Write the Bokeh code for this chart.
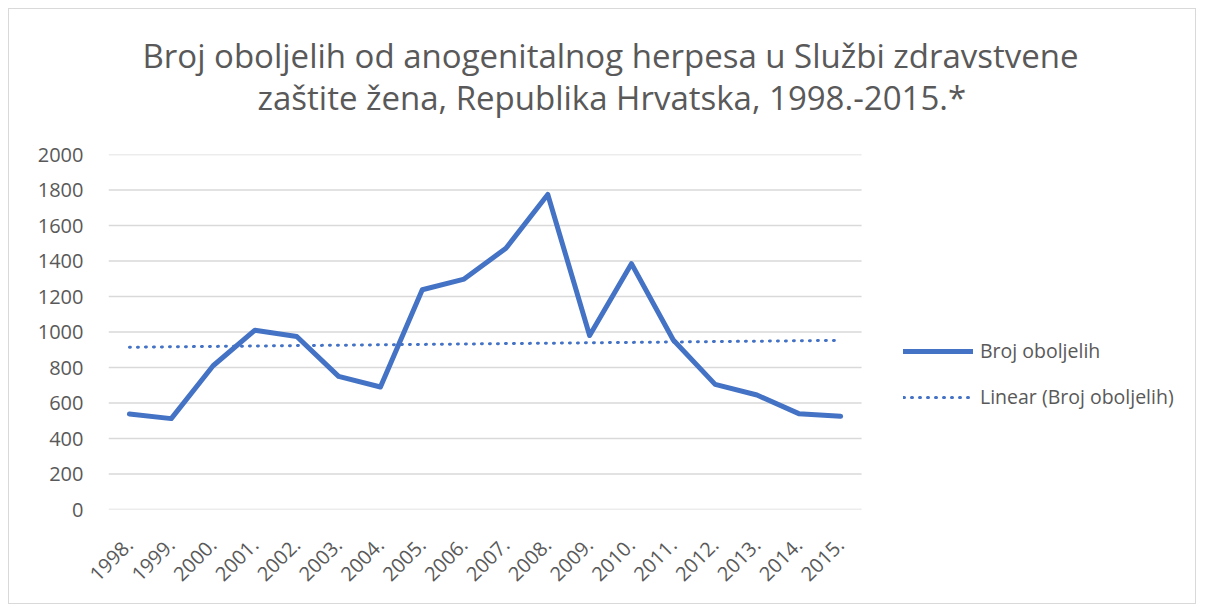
import numpy as np
from bokeh.plotting import figure
from bokeh.models import Range1d, Legend, LegendItem, Title, ColumnDataSource, FixedTicker
from bokeh.embed import file_html
from bokeh.resources import INLINE
from math import pi

years = ["1998.", "1999.", "2000.", "2001.", "2002.", "2003.", "2004.", "2005.", "2006.",
         "2007.", "2008.", "2009.", "2010.", "2011.", "2012.", "2013.", "2014.", "2015."]
cases = [538, 512, 810, 1010, 975, 750, 690, 1238, 1298, 1472, 1775, 980, 1385, 955, 705, 645, 540, 525]
title_lines = ["Broj oboljelih od anogenitalnog herpesa u Službi zdravstvene",
               "zaštite žena, Republika Hrvatska, 1998.-2015.*"]
series_name = "Broj oboljelih"
trend_name = "Linear (Broj oboljelih)"
y_ticks = list(range(0, 2001, 200))

idx = list(range(len(years)))
coef = np.polyfit(idx, cases, 1)
trend = list(np.polyval(coef, idx))

FONT = "Open Sans"
GREY = "#595959"
BLUE = "#4472c4"

n = len(years)
# plot area reaches to the right edge so the legend can sit beside the data
p = figure(width=1188, height=596, x_range=Range1d(-0.5, 25.53), y_range=Range1d(0, 2000),
           output_backend="svg", toolbar_location=None,
           min_border_left=99, min_border_right=0, min_border_top=145, min_border_bottom=96)
p.styles = {"border": "1px solid #d9d9d9", "margin-left": "8px", "margin-top": "8px"}
p.outline_line_color = None
p.background_fill_color = "white"
p.border_fill_color = "white"
p.xgrid.grid_line_color = None
p.ygrid.grid_line_color = None

# horizontal gridlines over the category area only
p.segment(x0=[-0.5] * len(y_ticks), x1=[n - 0.5] * len(y_ticks), y0=y_ticks, y1=y_ticks,
          line_color="#d9d9d9", line_width=1.5)

src = ColumnDataSource(dict(x=idx, y=cases, t=trend))
r_trend = p.line("x", "t", source=src, line_color=BLUE, line_width=3, line_dash="1 7", line_cap="round")
r_line = p.line("x", "y", source=src, line_color=BLUE, line_width=5, line_join="round", line_cap="round")

p.yaxis.ticker = FixedTicker(ticks=y_ticks)
p.xaxis.ticker = FixedTicker(ticks=idx)
p.xaxis.major_label_overrides = {i: y for i, y in zip(idx, years)}

for ax in (p.xaxis, p.yaxis):
    ax.axis_line_color = None
    ax.major_tick_line_color = None
    ax.minor_tick_line_color = None
    ax.major_label_text_font = FONT
    ax.major_label_text_color = GREY
    ax.major_label_text_font_size = "20px"
p.yaxis.major_label_standoff = 19
p.xaxis.major_label_orientation = pi / 4
p.xaxis.major_label_standoff = 26

# spacer, then title lines (nearest to frame added first)
p.add_layout(Title(text=" ", standoff=0, text_font=FONT, text_font_size="24px"), "above")
for txt, off, so in [(title_lines[1], 149, 0), (title_lines[0], 34, -10)]:
    p.add_layout(Title(text=txt, align="left", offset=off, standoff=so, text_font=FONT,
                       text_font_size="33px", text_font_style="normal", text_color=GREY), "above")

legend = Legend(items=[LegendItem(label=series_name, renderers=[r_line]),
                       LegendItem(label=trend_name, renderers=[r_trend])],
                location=(795, 99), orientation="vertical")
legend.glyph_width = 70
legend.glyph_height = 20
legend.label_height = 20
legend.label_standoff = 7
legend.spacing = 19
legend.padding = 0
legend.margin = 0
legend.border_line_color = None
legend.background_fill_alpha = 0
legend.label_text_font = FONT
legend.label_text_color = GREY
legend.label_text_font_size = "19.5px"
p.add_layout(legend)

open("out.html", "w").write(file_html(p, INLINE))
